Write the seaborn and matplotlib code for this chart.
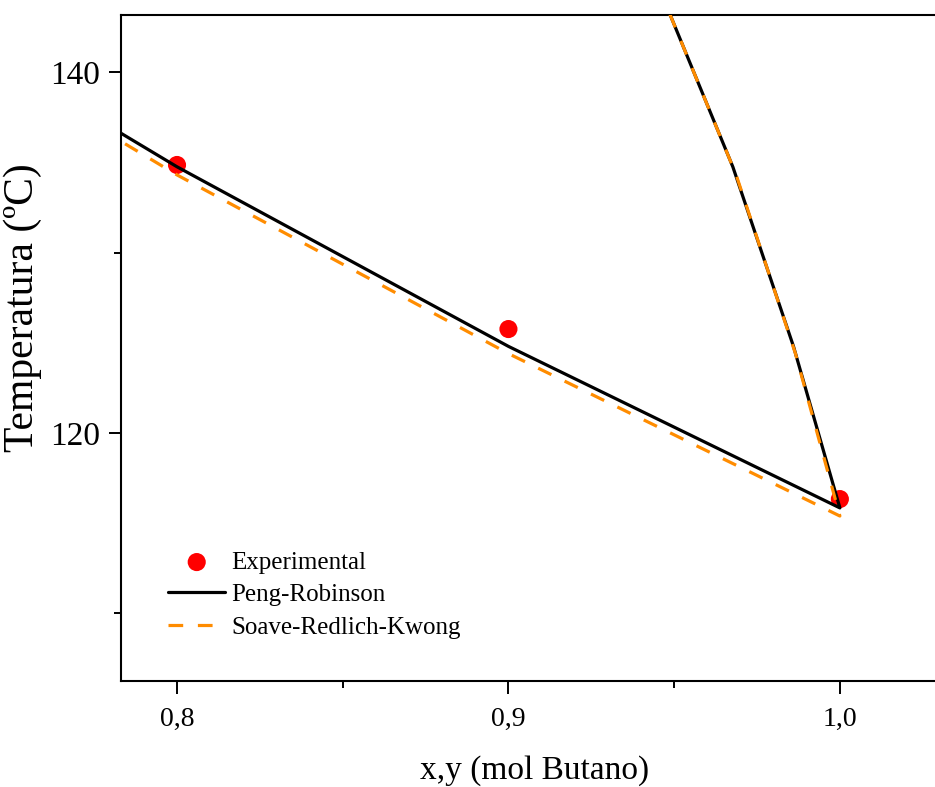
import matplotlib
matplotlib.use("Agg")
import matplotlib.pyplot as plt
from matplotlib.ticker import MultipleLocator, FuncFormatter
import seaborn as sns
import pandas as pd

# Experimental data
exp_x = [0.8, 0.9, 1.0]
exp_T = [134.85, 125.76, 116.34]

# Peng-Robinson (liquid branch then vapor branch)
pr_x = [0.70, 0.80, 0.90, 1.00, 0.986, 0.9677, 0.943]
pr_T = [145.75, 134.75, 124.80, 115.85, 124.80, 134.75, 145.75]

# Soave-Redlich-Kwong (liquid branch then vapor branch)
srk_x = [0.70, 0.80, 0.90, 1.00, 0.9866, 0.9687, 0.944]
srk_T = [145.30, 134.30, 124.40, 115.40, 124.40, 134.30, 145.30]

sns.set_theme(style="ticks")
plt.rcParams['font.family'] = ['Liberation Serif', 'DejaVu Serif']
plt.rcParams['text.color'] = 'black'
plt.rcParams['axes.labelcolor'] = 'black'
plt.rcParams['xtick.color'] = 'black'
plt.rcParams['ytick.color'] = 'black'

fig = plt.figure(figsize=(9.35, 7.87), dpi=100)
ax = fig.add_axes([121/935, 1-681/787, 1-121/935, 666/787])

df_exp = pd.DataFrame({"x": exp_x, "T": exp_T})
df_pr = pd.DataFrame({"x": pr_x, "T": pr_T})
df_srk = pd.DataFrame({"x": srk_x, "T": srk_T})

sns.scatterplot(data=df_exp, x="x", y="T", ax=ax, color="#ff0000", s=170,
                edgecolor="none", label="Experimental", zorder=2)
sns.lineplot(data=df_pr, x="x", y="T", ax=ax, sort=False, estimator=None,
             color="black", lw=2.3, label="Peng-Robinson", zorder=3)
sns.lineplot(data=df_srk, x="x", y="T", ax=ax, sort=False, estimator=None,
             color="#ff8c00", lw=2.3, ls=(0, (4.6, 4.6)),
             label="Soave-Redlich-Kwong", zorder=4)

ax.set_xlim(0.7831, 1.0287)
ax.set_ylim(106.26, 143.16)

ax.xaxis.set_major_locator(MultipleLocator(0.1))
ax.xaxis.set_minor_locator(MultipleLocator(0.05))
ax.yaxis.set_major_locator(MultipleLocator(20))
ax.yaxis.set_minor_locator(MultipleLocator(10))
ax.xaxis.set_major_formatter(FuncFormatter(lambda v, p: f"{v:.1f}".replace(".", ",")))
ax.yaxis.set_major_formatter(FuncFormatter(lambda v, p: f"{v:.0f}"))

ax.tick_params(which="major", direction="out", length=9, width=1.4, color="black")
ax.tick_params(which="minor", direction="out", length=5, width=1.4, color="black")
ax.tick_params(axis="x", which="major", labelsize=20, pad=10)
ax.tick_params(axis="y", which="major", labelsize=24, pad=6)

for s in ["left", "bottom", "top"]:
    ax.spines[s].set_linewidth(1.5)
    ax.spines[s].set_color("black")
ax.spines["right"].set_visible(False)

ax.set_xlabel("x,y (mol Butano)", fontsize=24)
ax.set_ylabel("Temperatura (ºC)", fontsize=30)
ax.xaxis.set_label_coords(0.5086, -0.111)
ax.yaxis.set_label_coords(-0.097, 0.56)

leg = ax.legend(loc="upper left", bbox_to_anchor=(0.0577, 0.195), frameon=False,
                fontsize=18, handlelength=2.3, handletextpad=0.25,
                labelspacing=0.4, borderpad=0, borderaxespad=0, markerscale=1.0)

fig.savefig("out.png", dpi=100)
